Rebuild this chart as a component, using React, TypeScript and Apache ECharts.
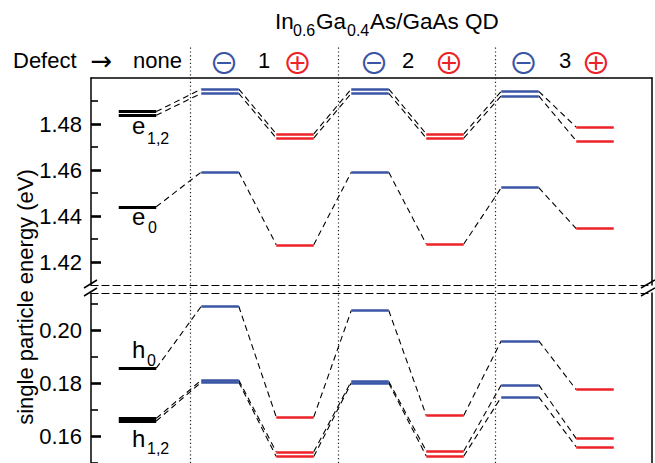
import React, { useEffect, useRef } from 'react';
import * as echarts from 'echarts';

// Slots along x: none, defect 1 (−,+), defect 2 (−,+), defect 3 (−,+)
const slotNames = ['none', '1 −', '1 +', '2 −', '2 +', '3 −', '3 +'];
const slotX = [0, 1.1, 2.1, 3.1, 4.1, 5.1, 6.1];
const slotKind = ['none', 'minus', 'plus', 'minus', 'plus', 'minus', 'plus'];

// Electron levels (eV)
const e0 = [1.444, 1.4591, 1.4275, 1.459, 1.4278, 1.4523, 1.4345];
const e1 = [1.4854, 1.4952, 1.4757, 1.4952, 1.4757, 1.4942, 1.4786];
const e2 = [1.4838, 1.4933, 1.4739, 1.4933, 1.4739, 1.4922, 1.4727];
// Hole levels (eV)
const h0 = [0.1857, 0.209, 0.1673, 0.2074, 0.1679, 0.196, 0.1776];
const h1 = [0.1668, 0.1812, 0.1542, 0.1807, 0.1545, 0.1794, 0.1592];
const h2 = [0.1658, 0.1804, 0.1524, 0.1801, 0.1526, 0.1748, 0.1561];

// Axis ticks
const topMajor = [1.42, 1.44, 1.46, 1.48];
const topMinor = [1.43, 1.45, 1.47, 1.49];
const botMajor = [0.16, 0.18, 0.2];
const botMinor = [0.15, 0.17, 0.19, 0.21];
const separators = [0.707, 2.677, 4.767];

const BLUE = '#3a55a5';
const RED = '#ec2227';
const FONT = '"Liberation Sans", Arial, Helvetica, sans-serif';
const SYM = '"DejaVu Sans", sans-serif';
const CIRC = '"Noto Sans CJK JP", "Noto Sans CJK SC", "DejaVu Sans", sans-serif';

export default function App() {
  const ref = useRef<HTMLDivElement>(null);
  useEffect(() => {
    const chart = echarts.init(ref.current!, null, { renderer: 'svg' });
    const HW = 0.25;
    const colorOf = (k: string) => (k === 'minus' ? BLUE : k === 'plus' ? RED : '#000');
    const levelData = (states: number[][]) =>
      states.flatMap((s) =>
        s.map((v, i) => ({
          name: slotNames[i],
          coords: [
            [slotX[i] - HW, v],
            [slotX[i] + HW, v],
          ],
          lineStyle: { color: colorOf(slotKind[i]), width: slotKind[i] === 'none' ? 2.8 : 2.6 },
        }))
      );
    const connData = (states: number[][]) =>
      states.flatMap((s) =>
        s.slice(0, -1).map((v, i) => ({
          coords: [
            [slotX[i] + HW, v],
            [slotX[i + 1] - HW, s[i + 1]],
          ],
        }))
      );

    const xBase = {
      type: 'value',
      min: -0.62,
      max: 6.86,
      axisTick: { show: false },
      axisLabel: { show: false },
      splitLine: { show: false },
    };
    const dashed = { color: '#000', width: 1.2, type: [7, 4] };
    const majorY = (grid: number, min: number, max: number, vals: number[]) => ({
      type: 'value',
      gridIndex: grid,
      min,
      max,
      position: 'left',
      axisLine: { show: true, onZero: false, lineStyle: { color: '#000', width: 1.5 } },
      axisTick: { show: true, inside: true, length: 10, customValues: vals, lineStyle: { color: '#000', width: 2.6 } },
      axisLabel: {
        show: true,
        customValues: vals,
        formatter: (v: number) => v.toFixed(2),
        fontSize: 22,
        fontFamily: FONT,
        color: '#000',
        margin: 9,
      },
      splitLine: { show: false },
    });
    const minorY = (grid: number, min: number, max: number, vals: number[]) => ({
      type: 'value',
      gridIndex: grid,
      min,
      max,
      position: 'left',
      axisLine: { show: false, onZero: false },
      axisTick: { show: true, inside: true, length: 7, customValues: vals, lineStyle: { color: '#000', width: 1.6 } },
      axisLabel: { show: false },
      splitLine: { show: false },
    });
    const rightY = (grid: number, min: number, max: number) => ({
      type: 'value',
      gridIndex: grid,
      min,
      max,
      position: 'right',
      axisLine: { show: true, onZero: false, lineStyle: { color: '#000', width: 1.5 } },
      axisTick: { show: false },
      axisLabel: { show: false },
      splitLine: { show: false },
    });

    const txt = (text: string, x: number, y: number, extra: any = {}) => ({
      type: 'text',
      x,
      y,
      z: 10,
      style: {
        text,
        fontSize: 22,
        fontFamily: FONT,
        fill: '#000',
        textAlign: 'left',
        textVerticalAlign: 'middle',
        ...extra,
      },
    });
    const circ = (text: string, x: number, color: string) =>
      txt(text, x, 60.5, { textAlign: 'center', fontFamily: CIRC, fontSize: 30, lineHeight: 22, fill: color });
    const slash = (x1: number, y1: number, x2: number, y2: number) => ({
      type: 'line',
      z: 10,
      shape: { x1, y1, x2, y2 },
      style: { stroke: '#000', lineWidth: 1.5 },
    });

    const option: any = {
      animation: false,
      backgroundColor: '#fff',
      textStyle: { fontFamily: FONT },
      grid: [
        { left: 91, top: 78, width: 561, height: 207 },
        { left: 91, top: 293, width: 561, height: 171.2 },
        { left: 91, top: 45, width: 561, height: 420 },
      ],
      xAxis: [
        { ...xBase, gridIndex: 0, position: 'top', axisLine: { show: true, onZero: false, lineStyle: { color: '#000', width: 1.5 } } },
        { ...xBase, gridIndex: 0, position: 'bottom', axisLine: { show: true, onZero: false, lineStyle: dashed } },
        { ...xBase, gridIndex: 1, position: 'top', axisLine: { show: true, onZero: false, lineStyle: dashed } },
        { ...xBase, gridIndex: 2, show: false },
      ],
      yAxis: [
        majorY(0, 1.41, 1.5, topMajor),
        minorY(0, 1.41, 1.5, topMinor),
        rightY(0, 1.41, 1.5),
        majorY(1, 0.15, 0.214, botMajor),
        minorY(1, 0.15, 0.214, botMinor),
        rightY(1, 0.15, 0.214),
        { type: 'value', gridIndex: 2, min: 0, max: 1, show: false },
      ],
      series: [
        {
          type: 'lines',
          coordinateSystem: 'cartesian2d',
          xAxisIndex: 3,
          yAxisIndex: 6,
          z: 1,
          lineStyle: { color: '#222', width: 1.2, type: [1.2, 2.6], opacity: 1 },
          data: separators.map((s) => ({ coords: [[s, 0], [s, 1]] })),
        },
        {
          type: 'lines',
          coordinateSystem: 'cartesian2d',
          xAxisIndex: 0,
          yAxisIndex: 0,
          z: 2,
          lineStyle: { color: '#000', width: 1.1, type: [6, 4], opacity: 1 },
          data: connData([e0, e1, e2]),
        },
        {
          type: 'lines',
          coordinateSystem: 'cartesian2d',
          xAxisIndex: 0,
          yAxisIndex: 0,
          z: 3,
          lineStyle: { opacity: 1 },
          data: levelData([e0, e1, e2]),
        },
        {
          type: 'lines',
          coordinateSystem: 'cartesian2d',
          xAxisIndex: 2,
          yAxisIndex: 3,
          z: 2,
          lineStyle: { color: '#000', width: 1.1, type: [6, 4], opacity: 1 },
          data: connData([h0, h1, h2]),
        },
        {
          type: 'lines',
          coordinateSystem: 'cartesian2d',
          xAxisIndex: 2,
          yAxisIndex: 3,
          z: 3,
          lineStyle: { opacity: 1 },
          data: levelData([h0, h1, h2]),
        },
      ],
      graphic: [
        // title
        txt('In', 275, 21.5, { fontSize: 22.5 }),
        txt('0.6', 293, 30.5, { fontSize: 16, lineHeight: 14 }),
        txt('Ga', 316, 21.5, { fontSize: 22.5 }),
        txt('0.4', 347, 30.5, { fontSize: 16, lineHeight: 14 }),
        txt('As/GaAs QD', 370, 21.5, { fontSize: 22.5 }),
        // header row
        txt('Defect', 13, 60.5),
        txt('→', 101.5, 60.5, { textAlign: 'center', fontFamily: SYM, fontSize: 26 }),
        txt('none', 133, 60.5),
        circ('⊖', 224, BLUE),
        txt('1', 264, 60.5, { textAlign: 'center' }),
        circ('⊕', 297.5, RED),
        circ('⊖', 374, BLUE),
        txt('2', 408, 60.5, { textAlign: 'center' }),
        circ('⊕', 449, RED),
        circ('⊖', 523.5, BLUE),
        txt('3', 565, 60.5, { textAlign: 'center' }),
        circ('⊕', 596, RED),
        // y axis name
        {
          type: 'text',
          x: 25,
          y: 297,
          rotation: Math.PI / 2,
          z: 10,
          style: {
            text: 'single particle energy (eV)',
            fontSize: 22,
            fontFamily: FONT,
            fill: '#000',
            textAlign: 'center',
            textVerticalAlign: 'middle',
          },
        },
        // state labels
        txt('e', 132, 125, { fontSize: 24 }),
        txt('1,2', 147, 138, { fontSize: 16 }),
        txt('e', 132, 216, { fontSize: 24 }),
        txt('0', 148, 227, { fontSize: 16 }),
        txt('h', 132, 349.5, { fontSize: 24 }),
        txt('0', 147, 360, { fontSize: 16 }),
        txt('h', 132, 438, { fontSize: 24 }),
        txt('1,2', 147, 448, { fontSize: 16 }),
        // axis break marks
        slash(84, 288, 97, 280),
        slash(84, 296, 97, 288),
        slash(641, 288, 655, 280),
        slash(641, 296, 655, 288),
      ],
    };
    chart.setOption(option);
    return () => chart.dispose();
  }, []);
  return <div ref={ref} style={{ position: 'fixed', left: 0, top: 0, width: 655, height: 463 }} />;
}
